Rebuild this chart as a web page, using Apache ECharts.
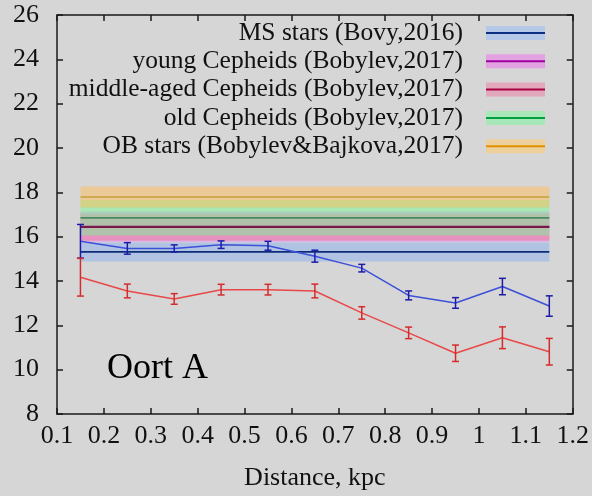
<!DOCTYPE html>
<html>
<head>
<meta charset="utf-8">
<script src="https://cdn.jsdelivr.net/npm/echarts@6/dist/echarts.min.js"></script>
<style>
  html, body { margin: 0; padding: 0; background: #d6d6d6; }
  #chart { width: 592px; height: 496px; }
</style>
</head>
<body>
<div id="chart"></div>
<script>
// Oort constant A versus distance, with literature reference values
const distance = [0.15, 0.25, 0.35, 0.45, 0.55, 0.65, 0.75, 0.85, 0.95, 1.05, 1.15];
const blueA   = [15.79, 15.47, 15.47, 15.64, 15.59, 15.12, 14.58, 13.35, 13.01, 13.75, 12.87];
const blueErr = [0.76, 0.26, 0.16, 0.17, 0.20, 0.27, 0.17, 0.20, 0.24, 0.37, 0.46];
const redA    = [14.17, 13.55, 13.19, 13.61, 13.61, 13.55, 12.56, 11.66, 10.74, 11.44, 10.81];
const redErr  = [0.85, 0.31, 0.24, 0.24, 0.24, 0.31, 0.28, 0.26, 0.37, 0.49, 0.60];

// reference measurements: value and uncertainty
const refNames = [
  'MS stars (Bovy,2016)',
  'young Cepheids (Bobylev,2017)',
  'middle-aged Cepheids (Bobylev,2017)',
  'old Cepheids (Bobylev,2017)',
  'OB stars (Bobylev&Bajkova,2017)'
];
const refA   = [15.31, 16.45, 16.43, 16.85, 17.79];
const refErr = [0.43, 0.68, 0.60, 0.80, 0.47];
const refRange = [0.15, 1.15];

const xTicks = { min: 0.1, max: 1.2, step: 0.1 };
const yTicks = { min: 8, max: 26, step: 2 };

// styling
const bandFill  = ['rgba(140,175,240,0.5)', 'rgba(240,110,240,0.45)', 'rgba(240,120,150,0.45)', 'rgba(110,255,145,0.45)', 'rgba(255,190,90,0.5)'];
const plotLine  = ['#0c2c78', '#8a1060', '#7a1848', '#4a8a62', '#c4a038'];
const keyLine   = ['#0c3080', '#a000a0', '#a80040', '#00a040', '#e09000'];
const keyFill   = ['#b6c8e8', '#e2a2e2', '#e2a8bc', '#a8e8b8', '#eed09c'];

const serif = '"Liberation Serif", "DejaVu Serif", serif';

const chart = echarts.init(document.getElementById('chart'), null, { renderer: 'canvas' });

const axisLineStyle = { color: '#1a1a1a', width: 1.5 };
const fmtX = v => String(+v.toFixed(1));

function errorBarSeries(name, xs, ys, es, color) {
  return {
    name: name,
    type: 'custom',
    z: 5,
    data: xs.map((x, i) => [x, ys[i] - es[i], ys[i] + es[i]]),
    renderItem: function (params, api) {
      const lo = api.coord([api.value(0), api.value(1)]);
      const hi = api.coord([api.value(0), api.value(2)]);
      const cap = 3.5;
      const st = { stroke: color, lineWidth: 1.5 };
      return {
        type: 'group',
        children: [
          { type: 'line', shape: { x1: lo[0], y1: lo[1], x2: hi[0], y2: hi[1] }, style: st },
          { type: 'line', shape: { x1: lo[0] - cap, y1: lo[1], x2: lo[0] + cap, y2: lo[1] }, style: st },
          { type: 'line', shape: { x1: hi[0] - cap, y1: hi[1], x2: hi[0] + cap, y2: hi[1] }, style: st }
        ]
      };
    }
  };
}

const bandSeries = {
  name: 'reference bands',
  type: 'custom',
  z: 1,
  data: refA.map((a, i) => [refRange[0], refRange[1], a - refErr[i], a + refErr[i], i]),
  renderItem: function (params, api) {
    const p0 = api.coord([api.value(0), api.value(3)]);
    const p1 = api.coord([api.value(1), api.value(2)]);
    return {
      type: 'rect',
      shape: { x: p0[0], y: p0[1], width: p1[0] - p0[0], height: p1[1] - p0[1] },
      style: { fill: bandFill[api.value(4)] }
    };
  }
};

const refLineSeries = {
  name: 'reference values',
  type: 'custom',
  z: 2,
  data: refA.map((a, i) => [refRange[0], refRange[1], a, i]),
  renderItem: function (params, api) {
    const p0 = api.coord([api.value(0), api.value(2)]);
    const p1 = api.coord([api.value(1), api.value(2)]);
    return {
      type: 'line',
      shape: { x1: p0[0], y1: p0[1], x2: p1[0], y2: p1[1] },
      style: { stroke: plotLine[api.value(3)], lineWidth: 1.7 }
    };
  }
};

// key drawn in the upper right corner of the plot
const keyRight = 463, keyY0 = 33, keyStep = 28.3, sampleX = 486, sampleW = 59;
const keyGraphics = [];
refNames.forEach((name, i) => {
  const y = keyY0 + i * keyStep;
  keyGraphics.push({
    type: 'text', x: keyRight, y: y, z: 20,
    style: { text: name, align: 'right', verticalAlign: 'middle',
             textAlign: 'right', textVerticalAlign: 'middle',
             font: '25.5px ' + serif, fill: '#111' }
  });
  keyGraphics.push({
    type: 'rect', z: 20,
    shape: { x: sampleX, y: y - 7, width: sampleW, height: 14 },
    style: { fill: keyFill[i] }
  });
  keyGraphics.push({
    type: 'line', z: 21,
    shape: { x1: sampleX, y1: y, x2: sampleX + sampleW, y2: y },
    style: { stroke: keyLine[i], lineWidth: 2 }
  });
});
keyGraphics.push({
  type: 'text', x: 107, y: 369, z: 20,
  style: { text: 'Oort A', verticalAlign: 'middle', textVerticalAlign: 'middle',
           font: '36px ' + serif, fill: '#000' }
});

const option = {
  backgroundColor: '#d6d6d6',
  animation: false,
  grid: { left: 57, right: 18, top: 15, bottom: 80 },
  xAxis: [
    {
      type: 'value', min: xTicks.min, max: xTicks.max, interval: xTicks.step,
      name: 'Distance, kpc', nameLocation: 'middle', nameGap: 51,
      nameTextStyle: { fontFamily: serif, fontSize: 26, color: '#111' },
      axisLine: { show: true, onZero: false, lineStyle: axisLineStyle },
      axisTick: { show: true, inside: true, length: 6, lineStyle: axisLineStyle },
      axisLabel: { formatter: fmtX, fontFamily: serif, fontSize: 26, color: '#111', margin: 9,
                   showMinLabel: true, showMaxLabel: true },
      splitLine: { show: false }
    },
    {
      type: 'value', position: 'top', min: xTicks.min, max: xTicks.max, interval: xTicks.step,
      axisLine: { show: true, onZero: false, lineStyle: axisLineStyle },
      axisTick: { show: true, inside: true, length: 6, lineStyle: axisLineStyle },
      axisLabel: { show: false },
      splitLine: { show: false }
    }
  ],
  yAxis: [
    {
      type: 'value', min: yTicks.min, max: yTicks.max, interval: yTicks.step,
      axisLine: { show: true, onZero: false, lineStyle: axisLineStyle },
      axisTick: { show: true, inside: true, length: 6, lineStyle: axisLineStyle },
      axisLabel: { fontFamily: serif, fontSize: 26, color: '#111', margin: 18 },
      splitLine: { show: false }
    },
    {
      type: 'value', position: 'right', min: yTicks.min, max: yTicks.max, interval: yTicks.step,
      axisLine: { show: true, onZero: false, lineStyle: axisLineStyle },
      axisTick: { show: true, inside: true, length: 6, lineStyle: axisLineStyle },
      axisLabel: { show: false },
      splitLine: { show: false }
    }
  ],
  graphic: keyGraphics,
  series: [
    bandSeries,
    refLineSeries,
    {
      name: 'blue', type: 'line', z: 4, symbol: 'none',
      data: distance.map((x, i) => [x, blueA[i]]),
      lineStyle: { color: '#3c50d8', width: 1.5 }
    },
    errorBarSeries('blue errors', distance, blueA, blueErr, '#1c1ca8'),
    {
      name: 'red', type: 'line', z: 4, symbol: 'none',
      data: distance.map((x, i) => [x, redA[i]]),
      lineStyle: { color: '#e84848', width: 1.5 }
    },
    errorBarSeries('red errors', distance, redA, redErr, '#d42c2c')
  ]
};

chart.setOption(option);
</script>
</body>
</html>
